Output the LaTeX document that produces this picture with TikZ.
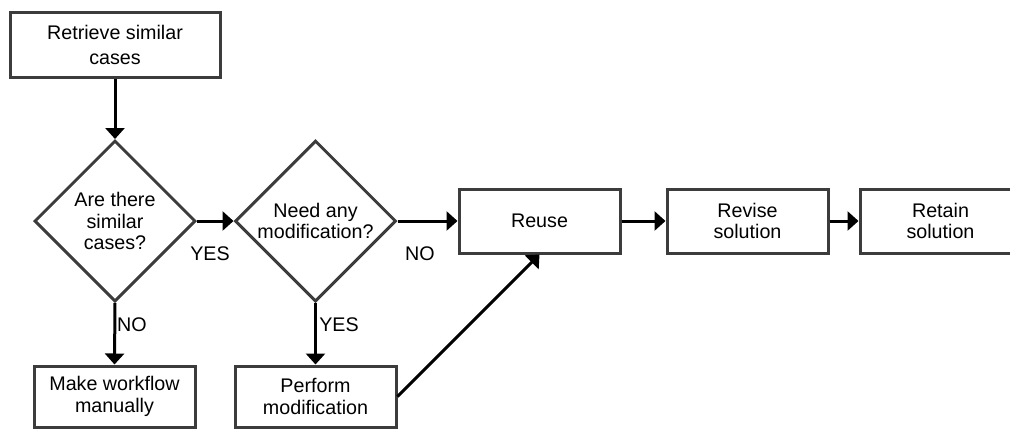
\documentclass[tikz,border=0pt]{standalone}
\usepackage{fontspec}
\setmainfont{Liberation Sans}
\usetikzlibrary{shapes.geometric,arrows.meta}
\definecolor{edgegray}{HTML}{3C3C3C}
\begin{document}
\begin{tikzpicture}[x=1pt,y=-1pt,
    every node/.style={font=\fontsize{19.7}{21.7}\selectfont,align=center},
    stepbox/.style={draw=edgegray,line width=3pt,rectangle,minimum width=161pt,minimum height=64pt,inner sep=0pt},
    decision/.style={draw=edgegray,line width=3pt,diamond,minimum size=161pt,inner sep=0pt},
    flow/.style={-{Triangle[length=11pt,width=19pt]},black,line width=3pt}]
    \useasboundingbox (0,0) rectangle (1010,429);
    \clip (0,0) rectangle (1010,429);
    \node[stepbox,minimum width=210pt,minimum height=65pt] (retrieve) at (115,45) {Retrieve similar\\[3pt]cases};
    \node[decision] (similar) at (115,221) {Are there\\similar\\cases?};
    \node[decision] (modify) at (315.5,221) {Need any\\modification?};
    \node[stepbox] (reuse) at (539.5,221) {Reuse};
    \node[stepbox] (revise) at (747.5,221) {Revise\\solution};
    \node[stepbox] (retain) at (940.5,221) {Retain\\solution};
    \node[stepbox,minimum height=61pt] (manual) at (114.5,396.5) {Make workflow\\manually};
    \node[stepbox,minimum height=61pt] (perform) at (315.5,396.5) {Perform\\modification};
    % branch labels
    \node (yes1) at (210,254) {YES};
    \node (no1) at (420,254) {NO};
    \node (no2) at (132,325) {NO};
    \node (yes2) at (339,325) {YES};
    \draw [flow] (retrieve) -- (similar.north);
    \draw [flow] (similar.east) -- (modify.west);
    \draw [flow] (modify.east) -- (reuse.west);
    \draw [flow] (reuse) -- (revise);
    \draw [flow] (revise) -- (retain);
    \draw [flow] (similar.south) -- (manual.north);
    \draw [flow] (modify.south) -- (perform.north);
    \draw [flow] (perform.east) -- (reuse.south);
\end{tikzpicture}
\end{document}
